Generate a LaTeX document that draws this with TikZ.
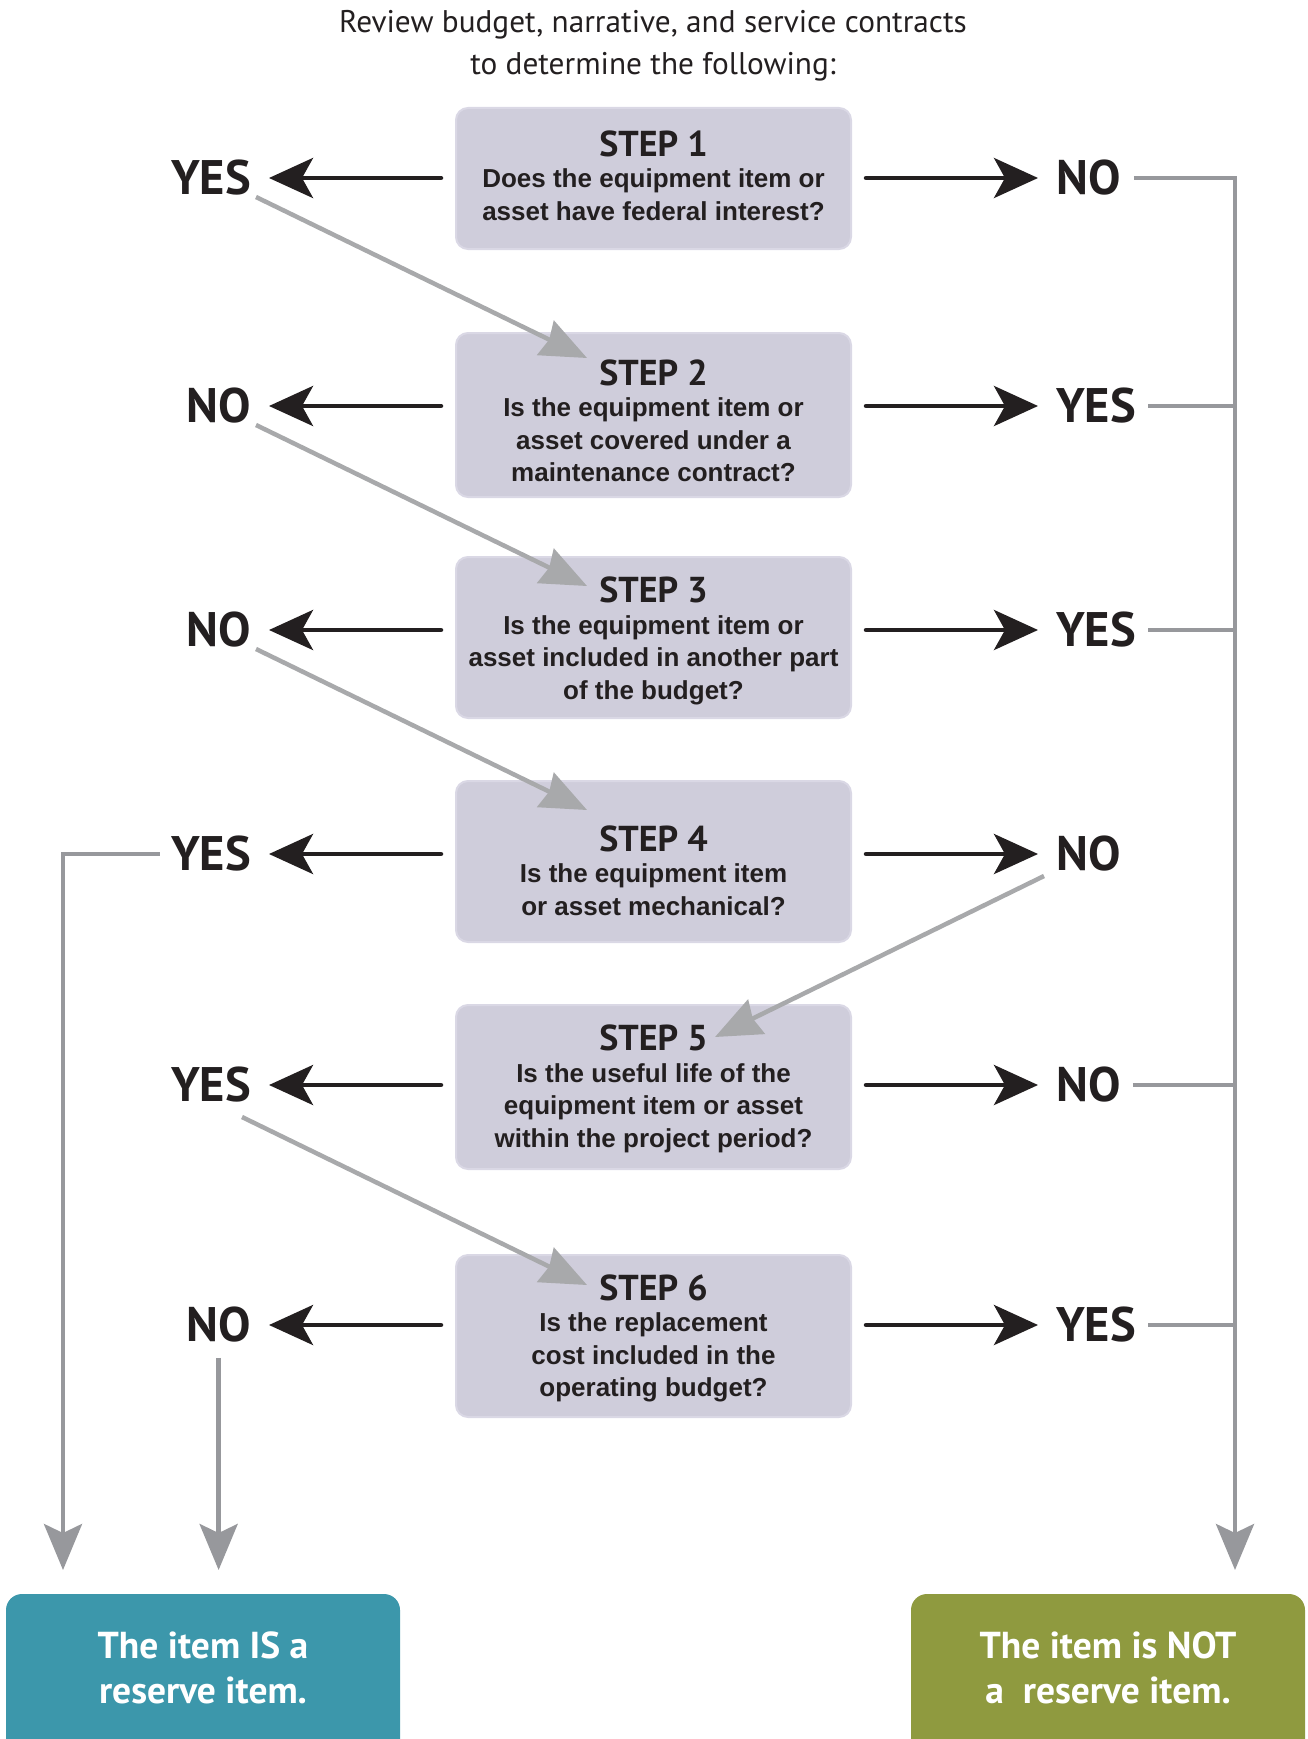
\documentclass[tikz,border=0pt]{standalone}
\usepackage{fontspec}
\setmainfont{Liberation Sans}
\newfontfamily\myr{PT Sans}
\usetikzlibrary{arrows.meta,calc}
\definecolor{boxfill}{HTML}{CFCDDB}
\definecolor{boxline}{HTML}{DAD8E5}
\definecolor{ink}{HTML}{231F20}
\definecolor{gline}{HTML}{97989C}
\definecolor{gdiag}{HTML}{A8A9AB}
\definecolor{tealbox}{HTML}{3C97AB}
\definecolor{olivebox}{HTML}{8F9A3F}
\newcommand{\st}[1]{{\myr\fontsize{36}{32.5}\selectfont #1}}
\begin{document}
\begin{tikzpicture}[x=1pt,y=-1pt,
  stepbox/.style={draw=boxline, line width=2pt, fill=boxfill, rounded corners=12pt,
    minimum width=395pt, inner sep=0pt},
  steptext/.style={anchor=north, align=center, text=ink, inner sep=0pt,
    font=\fontsize{26}{32.5}\selectfont\bfseries},
  lab/.style={font=\myr\bfseries\fontsize{48.5}{48.5}\selectfont, text=ink, inner ysep=0pt, inner xsep=18pt},
  blk/.style={draw=ink, line width=4.5pt, line cap=round, -{Stealth[length=44pt,width=40pt,inset=11pt]}},
  gcon/.style={draw=gline, line width=4.5pt},
  garr/.style={gcon, -{Stealth[length=46pt,width=38pt,inset=9pt]}},
  gdia/.style={draw=gdiag, line width=4.5pt, -{Stealth[length=46pt,width=38pt,inset=4pt]}},
  endbox/.style={rounded corners=16pt, minimum width=394pt, minimum height=170pt, inner sep=0pt},
  endtext/.style={text=white, align=center, font=\myr\bfseries\fontsize{37.5}{45}\selectfont}
]
\useasboundingbox (0,0) rectangle (1307,1739);
\begin{scope}
\clip (0,0) rectangle (1307,1739);

% title
\node[font=\myr\fontsize{31.3}{42.2}\selectfont, text=ink, align=center] (title) at (653,46)
  {Review budget, narrative, and service contracts\\to determine the following:};

% step boxes
\node[stepbox, minimum height=141pt] (s1) at (653.5,178.5) {};
\node[stepbox, minimum height=164pt] (s2) at (653.5,415) {};
\node[stepbox, minimum height=161pt] (s3) at (653.5,637.5) {};
\node[stepbox, minimum height=161pt] (s4) at (653.5,861.5) {};
\node[stepbox, minimum height=164pt] (s5) at (653.5,1087) {};
\node[stepbox, minimum height=162pt] (s6) at (653.5,1336) {};
% step texts
\node[steptext] (t1) at (653.5,130.5)
  {\st{STEP 1}\\[-1pt]Does the equipment item or\\asset have federal interest?};
\node[steptext] (t2) at (653.5,359.1)
  {\st{STEP 2}\\[-1pt]Is the equipment item or\\asset covered under a\\maintenance contract?};
\node[steptext] (t3) at (653.5,576.6)
  {\st{STEP 3}\\[-1pt]Is the equipment item or\\asset included in another part\\of the budget?};
\node[steptext] (t4) at (653.5,825.1)
  {\st{STEP 4}\\[-1pt]Is the equipment item\\or asset mechanical?};
\node[steptext] (t5) at (653.5,1024.8)
  {\st{STEP 5}\\[-1pt]Is the useful life of the\\equipment item or asset\\within the project period?};
\node[steptext] (t6) at (653.5,1274.4)
  {\st{STEP 6}\\[-1pt]Is the replacement\\cost included in the\\operating budget?};

% left labels
\node[lab, anchor=east] (l1) at (269,178) {YES};
\node[lab, anchor=east] (l2) at (269,406) {NO};
\node[lab, anchor=east] (l3) at (269,630) {NO};
\node[lab, anchor=east] (l4) at (269,854) {YES};
\node[lab, anchor=east] (l5) at (269,1085) {YES};
\node[lab, anchor=east] (l6) at (269,1325) {NO};
% right labels
\node[lab, anchor=west] (r1) at (1038,178) {NO};
\node[lab, anchor=west] (r2) at (1038,406) {YES};
\node[lab, anchor=west] (r3) at (1038,630) {YES};
\node[lab, anchor=west] (r4) at (1038,854) {NO};
\node[lab, anchor=west] (r5) at (1038,1085) {NO};
\node[lab, anchor=west] (r6) at (1038,1325) {YES};

% black arrows
\foreach \i in {1,...,6}{
  \draw[blk, shorten <=14pt] (s\i.west |- l\i.center) -- (l\i.east);
  \draw[blk, shorten <=14pt] (s\i.east |- r\i.center) -- (r\i.west);
}

% end boxes
\node[endbox, fill=tealbox] (isbox) at (203,1679) {};
\node[endbox, fill=olivebox] (notbox) at (1108,1679) {};
\node[endtext] (istext) at (203,1668) {The item IS a\\reserve item.};
\node[endtext] (nottext) at (1108,1668) {The item is NOT\\a\ \ reserve item.};

% collector coordinates
\coordinate (isA) at (63,1570);
\coordinate (isB) at (l6.south |- isA);
\coordinate (notA) at (1235,1570);

% gray connectors
\draw[garr, shorten <=-5pt] (r1.east) -| (notA);
\foreach \i in {2,3,5,6}{
  \draw[gcon, shorten <=-6pt] (r\i.east) -- (r\i.east -| notA);
}
\draw[garr, shorten <=-7pt] (l4.west) -| (isA);
\draw[garr, shorten <=15pt] (l6.south) -- (isB);

% diagonal arrows
\coordinate (d1s) at (256,197);  \coordinate (d1e) at (587,358);
\coordinate (d2s) at (256,425);  \coordinate (d2e) at (587,586);
\coordinate (d3s) at (256,649);  \coordinate (d3e) at (587,810);
\coordinate (d4s) at (1044,876); \coordinate (d4e) at (715,1037);
\coordinate (d5s) at (242,1117); \coordinate (d5e) at (587,1285);
\draw[gdia] (d1s) -- (d1e);
\draw[gdia] (d2s) -- (d2e);
\draw[gdia] (d3s) -- (d3e);
\draw[gdia] (d4s) -- (d4e);
\draw[gdia] (d5s) -- (d5e);
\end{scope}
\end{tikzpicture}
\end{document}
